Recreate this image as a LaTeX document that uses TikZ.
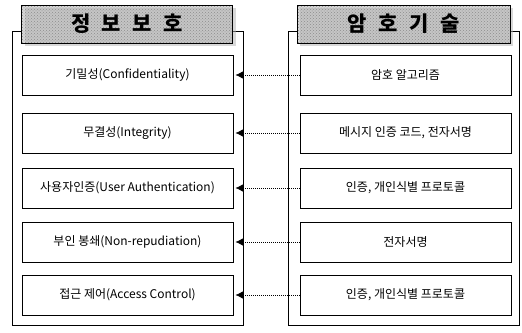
\documentclass[tikz,border=0pt]{standalone}
\usepackage{fontspec}
\setmainfont{Noto Sans CJK KR}
\usetikzlibrary{patterns,shadows,arrows.meta}

\begin{document}
\begin{tikzpicture}[x=1pt,y=-1pt,font=\fontsize{12}{14}\selectfont,
  frame/.style={draw,line width=0.8pt,minimum width=231pt,minimum height=294pt},
  title/.style={draw,line width=0.8pt,minimum width=211pt,minimum height=38pt,
    preaction={fill=gray!30},pattern=crosshatch dots,pattern color=gray!90,
    drop shadow={shadow xshift=3pt,shadow yshift=-3pt,fill=gray!60},
    font=\fontsize{21}{23}\selectfont\bfseries},
  item/.style={draw,line width=0.8pt,fill=white,minimum width=211pt,minimum height=40pt},
  link/.style={line width=0.8pt,dash pattern=on 1pt off 1pt,
    -{Latex[length=8pt,width=8pt]},shorten >=2pt}]
%\draw[help lines] (0,0) grid (522,332);
\useasboundingbox (0,0) rectangle (522,332);
\node (lframe) [frame] at (127.5,178) {};
\node (rframe) [frame] at (404,178) {};
\node (ltitle) [title] at (127,24) {정\hspace{0.55em}보\hspace{0.55em}보\hspace{0.55em}호};
\node (rtitle) [title,minimum width=213pt] at (403.5,24) {암\hspace{0.55em}호\hspace{0.55em}기\hspace{0.55em}술};
\node (conf) [item] at (127.5,75) {기밀성(Confidentiality)};
\node (integ) [item] at (127.5,133) {무결성(Integrity)};
\node (auth) [item] at (127.5,188) {사용자인증(User Authentication)};
\node (nonrep) [item] at (127.5,242) {부인 봉쇄(Non-repudiation)};
\node (access) [item] at (127.5,295) {접근 제어(Access Control)};
\node (algo) [item] at (405.5,75) {암호 알고리즘};
\node (mac) [item] at (405.5,133) {메시지 인증 코드, 전자서명};
\node (proto) [item] at (405.5,188) {인증, 개인식별 프로토콜};
\node (sign) [item] at (405.5,242) {전자서명};
\node (proto2) [item] at (405.5,295) {인증, 개인식별 프로토콜};
\path
(algo.west) edge [link] (conf.east)
(mac.west) edge [link] (integ.east)
(proto.west) edge [link] (auth.east)
(sign.west) edge [link] (nonrep.east)
(proto2.west) edge [link] (access.east);
\end{tikzpicture}
\end{document}
